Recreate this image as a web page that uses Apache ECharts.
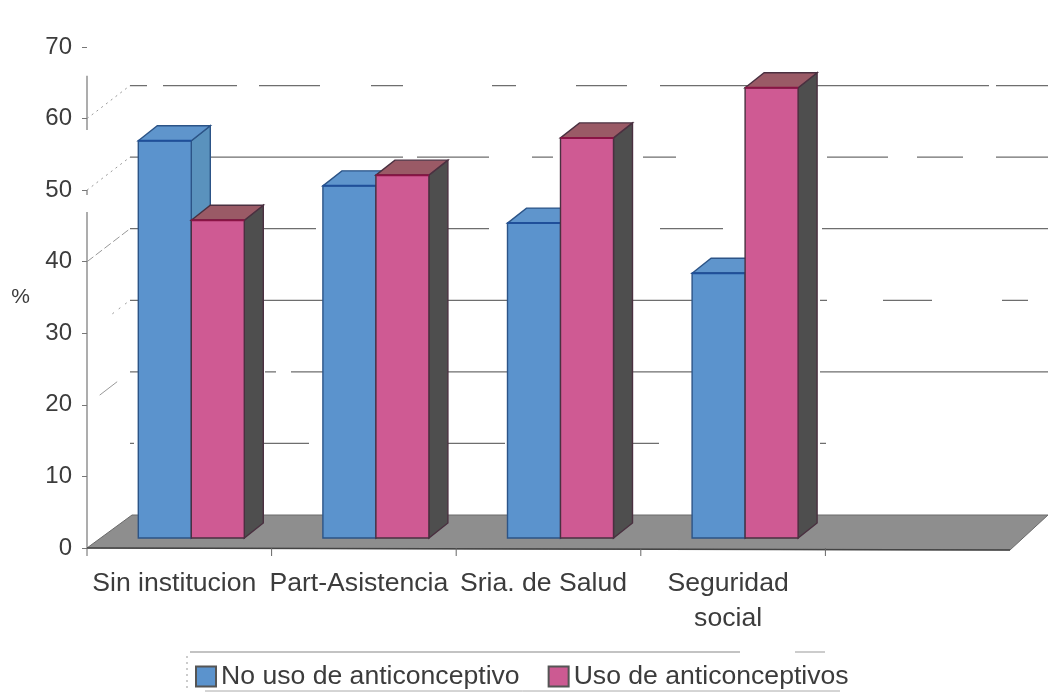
<!DOCTYPE html>
<html>
<head>
<meta charset="utf-8">
<style>html,body{margin:0;padding:0;background:#fff}#c{width:1048px;height:692px}</style>
<script src="https://cdn.jsdelivr.net/npm/echarts@6/dist/echarts.min.js"></script>
</head>
<body>
<div id="c"></div>
<script>
const categories = ['Sin institucion', 'Part-Asistencia', 'Sria. de Salud', 'Seguridad\nsocial', ''];
const noUso = [55.5, 49.2, 44.0, 37.0, null];
const uso = [44.4, 50.7, 55.9, 62.9, null];
const seriesNames = ['No uso de anticonceptivo', 'Uso de anticonceptivos'];
const gridLevels = [60, 50, 40, 30, 20, 10];

// Scan-worn appearance of the wall lines: on/off dash runs per level (styling only)
const gridDash = {
  60: [17,16,74,22,61,51,32,89,24,60,51,33,329,7,60],
  50: [9,71,193,14,72,43,21,90,33,151,61,29,46,33,60],
  40: [9,125,52,132,41,171,63,99,240],
  30: [9,123,61,125,60,124,60,128,7,56,49,70,26,40],
  20: [9,126,11,15,32,125,60,124,60,128,240],
  10: [4,130,45,139,57,128,26,161,6,240]
};
const sideDash = {
  60: [2,4],
  50: [2,4],
  40: [8,3],
  30: [0,32,2,6,2,6,2,100],
  20: [0,16,22,100],
  10: [0,100]
};

const WALL_X = 43, WALL_Y = 33;   // depth of the back wall
const BAR_X = 19, BAR_Y = 15;     // depth of a bar
const BAR_W = 53, BAR_LIFT = 10, BAR_SHIFT = 12;

function bar3d(front, side, top, edge, topEdge, sign) {
  return function (params, api) {
    const v = api.value(1);
    if (v == null || isNaN(v)) return null;
    const c = api.coord([api.value(0), v]);
    const b = api.coord([api.value(0), 0]);
    const cx = c[0] + BAR_SHIFT;
    const x0 = sign < 0 ? cx - BAR_W : cx;
    const x1 = x0 + BAR_W;
    const yt = c[1] - BAR_LIFT, yb = b[1] - BAR_LIFT;
    const poly = (pts, fill) => ({
      type: 'polygon',
      shape: { points: pts },
      style: { fill: fill, stroke: edge, lineWidth: 1.4 }
    });
    return {
      type: 'group',
      children: [
        poly([[x1, yt], [x1 + BAR_X, yt - BAR_Y], [x1 + BAR_X, yb - BAR_Y], [x1, yb]], side),
        poly([[x0, yt], [x0 + BAR_X, yt - BAR_Y], [x1 + BAR_X, yt - BAR_Y], [x1, yt]], top),
        poly([[x0, yt], [x1, yt], [x1, yb], [x0, yb]], front),
        { type: 'line', shape: { x1: x0, y1: yt, x2: x1, y2: yt },
          style: { stroke: topEdge, lineWidth: 2 } }
      ]
    };
  };
}

const option = {
  animation: false,
  backgroundColor: '#ffffff',
  textStyle: { fontFamily: '"Liberation Sans", Arial, sans-serif' },
  grid: { left: 87, right: 38, top: 47, bottom: 144 },
  legend: {
    left: 195, top: 663,
    itemWidth: 20, itemHeight: 20, itemGap: 28,
    icon: 'rect',
    padding: 0,
    textStyle: { fontSize: 26.6, color: '#3c3c3c' },
    data: seriesNames
  },
  xAxis: {
    type: 'category',
    data: categories,
    axisLine: { show: false },
    axisTick: { show: false },
    axisLabel: {
      interval: 0, fontSize: 26.6, color: '#3c3c3c', margin: 18, lineHeight: 35,
      padding: [0, 10, 0, 0], hideOverlap: false
    },
    splitLine: { show: false }
  },
  yAxis: {
    type: 'value', min: 0, max: 70, interval: 10,
    name: '%', nameLocation: 'middle', nameRotate: 0, nameGap: 57,
    nameTextStyle: { fontSize: 21, color: '#3c3c3c' },
    axisLine: { show: false },
    axisTick: { show: true, length: 5, lineStyle: { color: '#777' } },
    axisLabel: { fontSize: 24, color: '#3c3c3c', margin: 15 },
    splitLine: { show: false }
  },
  graphic: [
    { type: 'line', shape: { x1: 190, y1: 652, x2: 740, y2: 652 }, style: { stroke: '#888', lineWidth: 1.2 } },
    { type: 'line', shape: { x1: 795, y1: 652, x2: 825, y2: 652 }, style: { stroke: '#999', lineWidth: 1 } },
    { type: 'line', shape: { x1: 187, y1: 656, x2: 187, y2: 690 }, style: { stroke: '#999', lineWidth: 1, lineDash: [2, 4] } },
    { type: 'line', shape: { x1: 205, y1: 691, x2: 840, y2: 691 }, style: { stroke: '#aaa', lineWidth: 1 } }
  ],
  series: [
    {
      type: 'custom', name: 'floor', coordinateSystem: 'cartesian2d', silent: true, z: 1,
      data: [[0, 0]],
      renderItem(params, api) {
        const g = params.coordSys;
        const y0 = g.y + g.height;
        return {
          type: 'polygon',
          shape: { points: [[g.x, y0], [g.x + WALL_X + 2, y0 - WALL_Y], [g.x + g.width + 38, y0 - WALL_Y], [g.x + g.width, y0 + 2]] },
          style: { fill: '#8e8e8e', stroke: '#6a6a6a', lineWidth: 1 }
        };
      }
    },
    {
      type: 'custom', name: 'axis', coordinateSystem: 'cartesian2d', silent: true, z: 2,
      data: [[0, 66]],
      renderItem(params, api) {
        const g = params.coordSys;
        const top = api.coord([0, api.value(1)])[1];
        const y0 = g.y + g.height;
        const band = g.width / categories.length;
        const ticks = categories.map((_, i) => ({
          type: 'line',
          shape: { x1: g.x + band * i, y1: y0, x2: g.x + band * i, y2: y0 + 8 },
          style: { stroke: '#666', lineWidth: 1 }
        }));
        return {
          type: 'group',
          children: [
            { type: 'line', shape: { x1: g.x, y1: y0, x2: g.x, y2: top },
              style: { stroke: '#777', lineWidth: 1.2, lineDash: [336, 17, 5, 60, 60] } },
            { type: 'line', shape: { x1: g.x, y1: y0, x2: g.x + g.width, y2: y0 + 2 },
              style: { stroke: '#444', lineWidth: 1.5 } }
          ].concat(ticks)
        };
      }
    },
    {
      type: 'custom', name: 'wall', coordinateSystem: 'cartesian2d', silent: true, z: 2,
      data: gridLevels.map(v => [0, v]),
      renderItem(params, api) {
        const g = params.coordSys;
        const lv = api.value(1);
        const y = api.coord([0, lv])[1];
        return {
          type: 'group',
          children: [
            { type: 'line', shape: { x1: g.x + WALL_X, y1: y - WALL_Y, x2: g.x + g.width + 38, y2: y - WALL_Y },
              style: { stroke: '#6e6e6e', lineWidth: 1.3, lineDash: gridDash[lv] } },
            { type: 'line', shape: { x1: g.x, y1: y, x2: g.x + WALL_X, y2: y - WALL_Y },
              style: { stroke: '#999', lineWidth: 1, lineDash: sideDash[lv] } }
          ]
        };
      }
    },
    {
      type: 'custom', name: seriesNames[0], coordinateSystem: 'cartesian2d', silent: true, z: 3,
      itemStyle: { color: '#5b93cd', borderColor: '#555', borderWidth: 1 },
      data: noUso.map((v, i) => [i, v]),
      renderItem: bar3d('#5b93cd', '#5a92bd', '#5f95cc', '#2c5487', '#1f4f9a', -1)
    },
    {
      type: 'custom', name: seriesNames[1], coordinateSystem: 'cartesian2d', silent: true, z: 4,
      itemStyle: { color: '#cc5a92', borderColor: '#555', borderWidth: 1 },
      data: uso.map((v, i) => [i, v]),
      renderItem: bar3d('#cf5a93', '#4e4e4e', '#9a5a66', '#4a3040', '#8a1445', 1)
    }
  ]
};
const chart = echarts.init(document.getElementById('c'), null, { renderer: 'canvas' });
chart.setOption(option);
</script>
</body>
</html>
